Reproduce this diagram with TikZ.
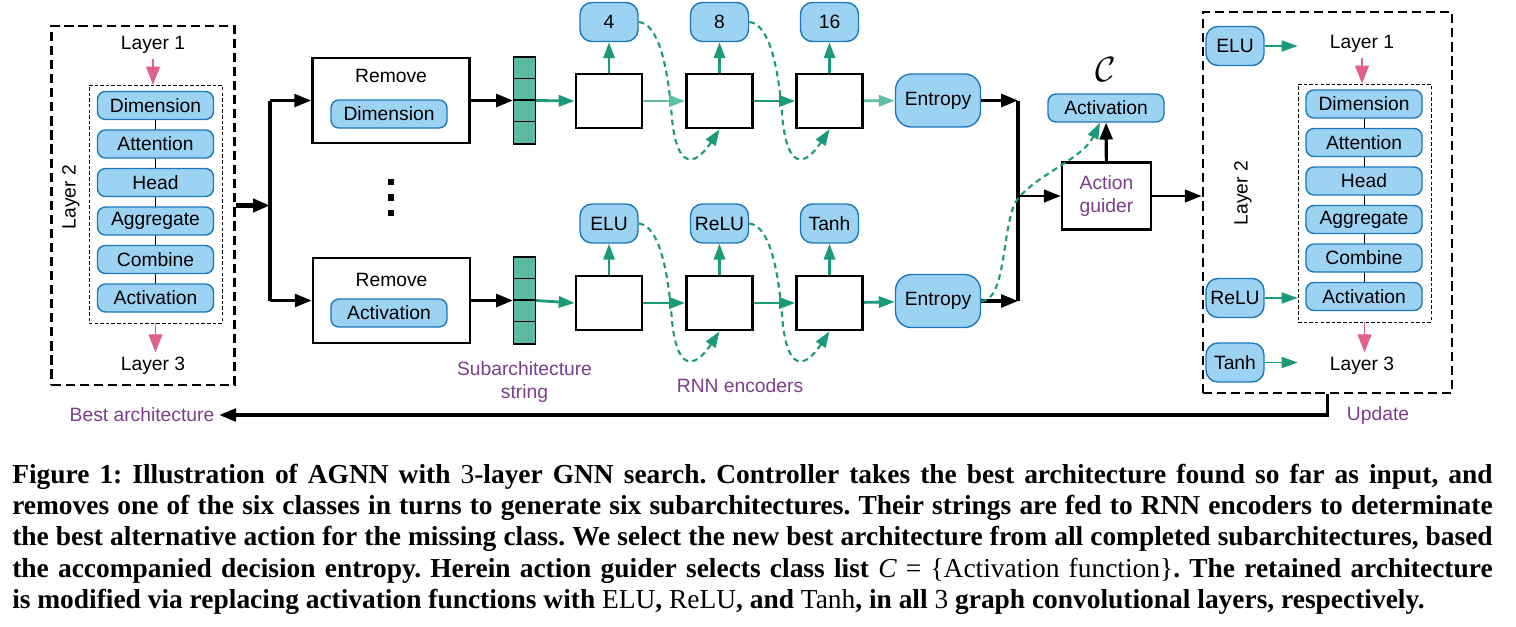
\documentclass[tikz,border=0pt]{standalone}
\usepackage{fontspec}
\setsansfont{Liberation Sans}
\newfontfamily\capfont{Liberation Serif}
\usetikzlibrary{arrows.meta}
\definecolor{pillblue}{HTML}{9DD3F2}
\definecolor{pilledge}{HTML}{1B78BD}
\definecolor{rnnteal}{HTML}{1B9A7A}
\definecolor{lightteal}{HTML}{5FBFA5}
\definecolor{strteal}{HTML}{5BBAA4}
\definecolor{layerpink}{HTML}{E0608C}
\definecolor{notepurple}{HTML}{7D3C8C}
\frenchspacing
\begin{document}
\begin{tikzpicture}[x=0.025cm, y=-0.025cm, font=\sffamily\fontsize{13.7}{16.5}\selectfont]
\tikzstyle{pill} = [draw=pilledge, fill=pillblue, line width=1pt, rounded corners=2mm, minimum width=29mm, minimum height=7mm, inner sep=0pt]
\tikzstyle{tag} = [pill, minimum width=14.5mm, minimum height=9.75mm, rounded corners=3mm]
\tikzstyle{entropy} = [pill, minimum width=21.25mm, minimum height=13.25mm, rounded corners=4mm]
\tikzstyle{cell} = [draw, line width=1.9pt, minimum width=16.5mm, minimum height=13.5mm]
\tikzstyle{blk} = [draw, line width=2.2pt, -{Triangle[length=4.2mm,width=3.2mm]}]
\tikzstyle{grn} = [rnnteal, line width=2pt, -{Triangle[length=4mm,width=2.8mm]}]
\tikzstyle{pinkarr} = [layerpink, line width=0.8pt, -{Triangle[length=4.5mm,width=3.5mm]}]
\tikzstyle{feedback} = [rnnteal, line width=1.5pt, dash pattern=on 4pt off 3pt, -{Triangle[length=4mm,width=2.8mm]}]
\tikzstyle{note} = [text=notepurple, align=center]
\tikzstyle{outerbox} = [draw, line width=2pt, dash pattern=on 6.5pt off 3.5pt]
\tikzstyle{innerbox} = [draw, line width=0.6pt, dash pattern=on 2.5pt off 1.5pt]
\useasboundingbox (0,0) rectangle (1516,626);
\node[outerbox, minimum width=45.75mm, minimum height=89.75mm] (lbest) at (143,205.5) {};
\node[innerbox, minimum width=33.25mm, minimum height=59.5mm] (lstack) at (155.5,204) {};
\node (ll1) at (153,45) {Layer 1};
\node (ll3) at (153,366) {Layer 3};
\node[rotate=90] (ll2) at (71,197) {Layer 2};
\foreach \i/\j in {0/1,1/2,2/3,3/4,4/5}
\draw (155.5,105.5+38.5*\i) -- (155.5,105.5+38.5*\j);
\foreach \name [count=\i from 0] in {Dimension,Attention,Head,Aggregate,Combine,Activation}
\node[pill] (lp\i) at (155.5,105.5+38.5*\i) {\name};
\draw[pinkarr] (ll1.south) -- (ll1.south |- lstack.north);
\draw[pinkarr] (lstack.south) -- (lstack.south |- ll3.north);
\node[cell, minimum width=39.25mm, minimum height=21.25mm] (rm1) at (391,100.5) {};
\node (rmt1) at (391,76) {Remove};
\node[pill] (rmp1) at (389,114) {Dimension};
\node[cell, minimum width=39.25mm, minimum height=21.25mm] (rm2) at (391.5,300.5) {};
\node (rmt2) at (391.5,280) {Remove};
\node[pill] (rmp2) at (389,313) {Activation};
\foreach \d [count=\i] in {182,197.5,213}
\node[fill, minimum size=1.6mm, inner sep=0pt] (dot\i) at (391,\d) {};
\coordinate (lj) at (270,205.5);
\draw[blk, line width=3pt] (lbest.east) -- (lj);
\draw[line width=2.5pt] (lj |- rm1.west) -- (lj |- rm2.west);
\draw[blk] (lj |- rm1.west) -- (rm1.west);
\draw[blk] (lj |- rm2.west) -- (rm2.west);
\foreach \r/\y in {1/100.5,2/300.5} {
\node[draw, fill=strteal, line width=0.8pt, minimum width=5.5mm, minimum height=21.75mm, inner sep=0pt] (s\r) at (524.5,\y) {};
\foreach \k in {1,2,3}
\draw[line width=0.8pt] ([yshift=-\k*5.4375mm]s\r.north west) -- ([yshift=-\k*5.4375mm]s\r.north east);
\draw[blk] (rm\r.east) -- (s\r.west);
}
\foreach \r/\y in {1/101,2/303}
\foreach \k/\x in {1/609,2/719.5,3/829.5}
\node[cell] (c\r\k) at (\x,\y) {};
\foreach \k/\x/\lab in {1/609/4,2/719.5/8,3/829.5/16}
\node[tag] (t1\k) at (\x,22) {\lab};
\foreach \k/\x/\lab in {1/609/ELU,2/719.5/ReLU,3/829.5/Tanh}
\node[tag] (t2\k) at (\x,223.5) {\lab};
\foreach \r in {1,2}
\foreach \k in {1,2,3}
\draw[grn] (c\r\k) -- (t\r\k);
\foreach \r in {1,2}
\foreach \k/\n in {1/2,2/3}
\draw[feedback] (t\r\k.east) .. controls +(20,2) and +(-4,-45) .. ([xshift=7mm,yshift=-2.5mm]c\r\k.east) .. controls +(4,60) and +(-25,38) .. (c\r\n.south);
\node[entropy] (e1) at (938,100.5) {Entropy};
\node[entropy] (e2) at (938,301) {Entropy};
\draw[grn] (s1.east) -- (c11.west);
\draw[grn] (s2.east) -- (c21.west);
\draw[grn, lightteal] (c11) -- (c12);
\draw[grn] (c12) -- (c13);
\draw[grn, lightteal] (c13) -- (e1);
\draw[grn] (c21) -- (c22);
\draw[grn] (c22) -- (c23);
\draw[grn] (c23) -- (e2);
\node[cell, minimum width=22.25mm, minimum height=16.75mm, text=notepurple, align=center] (guider) at (1106.5,196) {Action\\guider};
\node[pill] (act) at (1106,108) {Activation};
\node (cset) at (1106,70) {\fontsize{30}{32}\selectfont$\mathcal{C}$};
\coordinate (rj) at (1018,196);
\draw[blk] (e1.east) -- (e1.east -| rj);
\draw[blk] (e2.east) -- (e2.east -| rj);
\draw[line width=2.5pt] (e1.east -| rj) -- (e2.east -| rj);
\draw[blk, line width=1.3pt] (rj) -- (guider.west);
\draw[blk] (guider) -- (act);
\draw[feedback] (e2.east) .. controls (1006,301) and (1002,230) .. (1015,203) .. controls (1032,176) and (1082,160) .. ([xshift=-1.5mm]act.south);
\node[outerbox, minimum width=62.25mm, minimum height=95.25mm] (rbox) at (1327.5,202.5) {};
\node[innerbox, minimum width=33.25mm, minimum height=59.5mm] (rstack) at (1364.5,203) {};
\node (rl1) at (1362,44) {Layer 1};
\node (rl3) at (1362,366) {Layer 3};
\node[rotate=90] (rl2) at (1243,193) {Layer 2};
\foreach \i/\j in {0/1,1/2,2/3,3/4,4/5}
\draw (1364,104+38.5*\i) -- (1364,104+38.5*\j);
\foreach \name [count=\i from 0] in {Dimension,Attention,Head,Aggregate,Combine,Activation}
\node[pill] (rp\i) at (1364,104+38.5*\i) {\name};
\draw[pinkarr] (rl1.south) -- (rl1.south |- rstack.north);
\draw[pinkarr] (rstack.south) -- (rstack.south |- rl3.north);
\node[tag] (elu) at (1235,46) {ELU};
\node[tag] (relu) at (1235,298) {ReLU};
\node[tag] (tanh) at (1235,362.5) {Tanh};
\draw[grn, line width=1pt] (elu.east) -- (elu.east -| rstack.west);
\draw[grn, line width=1pt] (relu.east) -- (relu.east -| rstack.west);
\draw[grn, line width=1pt] (tanh.east) -- (tanh.east -| rstack.west);
\draw[blk, line width=1.3pt] (guider.east) -- (guider.east -| rbox.west);
\node[note] (best) at (142,415) {Best architecture};
\node[note] (upd) at (1378,416) {Update};
\node[note] (strlab) at (524.5,382) {Subarchitecture\\string};
\node[note] (rnnlab) at (740,386) {RNN encoders};
\draw[blk] (rbox.south) |- (best.east);
\node[anchor=base west, inner sep=0pt, text width=37cm, align=justify, font=\capfont\bfseries\fontsize{19.5}{22.3}\selectfont] (caption) at (12,483) {Figure 1: Illustration of AGNN with {\mdseries 3}-layer GNN search. Controller takes the best architecture found so far as input, and\linebreak removes one of the six classes in turns to generate six subarchitectures. Their strings are fed to RNN encoders to determinate\linebreak the best alternative action for the missing class. We select the new best architecture from all completed subarchitectures, based\linebreak the accompanied decision entropy. Herein action guider selects class list {\mdseries\itshape C} {\mdseries= \{Activation function\}}. The retained architecture\linebreak is modified via replacing activation functions with {\mdseries ELU}, {\mdseries ReLU}, and {\mdseries Tanh}, in all {\mdseries 3} graph convolutional layers, respectively.};
\end{tikzpicture}
\end{document}
